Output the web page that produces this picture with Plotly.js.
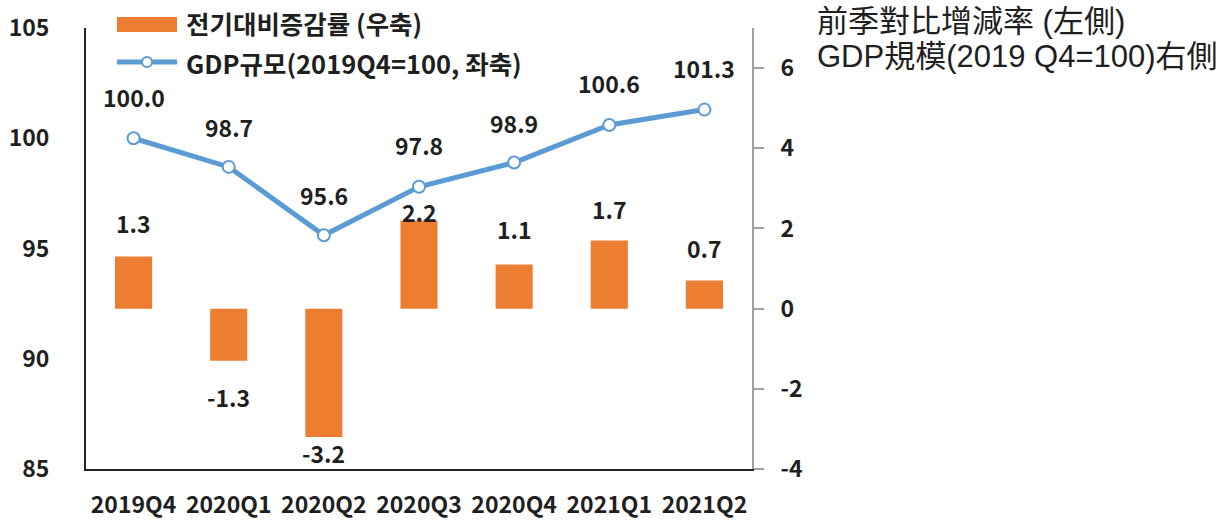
<!DOCTYPE html>
<html>
<head>
<meta charset="utf-8">
<script src="https://cdn.plot.ly/plotly-3.0.1.min.js"></script>
<style>
  html, body { margin: 0; padding: 0; background: #fff; }
  #chart { width: 1229px; height: 522px; }
</style>
</head>
<body>
<div id="chart"></div>
<script>
// ---- data ----
const quarters = ['2019Q4', '2020Q1', '2020Q2', '2020Q3', '2020Q4', '2021Q1', '2021Q2'];
const qoqRate = [1.3, -1.3, -3.2, 2.2, 1.1, 1.7, 0.7];          // 전기대비증감률 (우축)
const gdpLevel = [100.0, 98.7, 95.6, 97.8, 98.9, 100.6, 101.3];  // GDP규모 (좌축)
const barName = '전기대비증감률 (우축)';
const lineName = 'GDP규모(2019Q4=100, 좌축)';
const noteLines = ['前季對比增減率 (左側)', 'GDP規模(2019 Q4=100)右側'];
const leftTicks = [85, 90, 95, 100, 105];
const rightTicks = [-4, -2, 0, 2, 4, 6];

// ---- styling (label offsets in px) ----
const barLabelShift = [34, -36, -16, 8, 36, 31, 33];
const lineLabelShift = [41, 40, 40, 42, 40, 42, 42];

const ORANGE = '#ED7D31';
const BLUE = '#5B9BD5';
const TXT = '#1f1f1f';
const KFONT = '"Noto Sans CJK KR", "Noto Sans", sans-serif';
const CFONT = '"Liberation Sans", Arial, "Noto Sans CJK TC", sans-serif';

const L = 86, R = 752, T = 28, B = 469, W = 1229, H = 522;
const px2x = p => (p - L) / (R - L);
const px2y = p => (B - p) / (B - T);

const traces = [
  {
    type: 'bar', x: quarters, y: qoqRate, yaxis: 'y', name: barName,
    marker: { color: ORANGE }, width: 0.39, showlegend: false, hoverinfo: 'x+y'
  },
  {
    type: 'scatter', mode: 'lines+markers', x: quarters, y: gdpLevel, yaxis: 'y2', name: lineName,
    line: { color: BLUE, width: 5 },
    marker: { symbol: 'circle', size: 12, color: '#ffffff', line: { color: BLUE, width: 2 } },
    showlegend: false, hoverinfo: 'x+y'
  }
];

const annotations = [];
quarters.forEach((q, i) => {
  annotations.push({
    xref: 'x', yref: 'y', x: q, y: qoqRate[i], text: qoqRate[i].toFixed(1),
    showarrow: false, yshift: barLabelShift[i], xanchor: 'center', yanchor: 'middle',
    font: { family: KFONT, size: 23, color: TXT, weight: 'bold' }
  });
  annotations.push({
    xref: 'x', yref: 'y2', x: q, y: gdpLevel[i], text: gdpLevel[i].toFixed(1),
    showarrow: false, yshift: lineLabelShift[i], xanchor: 'center', yanchor: 'middle',
    font: { family: KFONT, size: 23, color: TXT, weight: 'bold' }
  });
});
// legend texts
annotations.push({
  xref: 'paper', yref: 'paper', x: px2x(184), y: px2y(23), text: barName,
  showarrow: false, xanchor: 'left', yanchor: 'middle',
  font: { family: KFONT, size: 25.5, color: TXT, weight: 'bold' }
});
annotations.push({
  xref: 'paper', yref: 'paper', x: px2x(184), y: px2y(62), text: lineName,
  showarrow: false, xanchor: 'left', yanchor: 'middle',
  font: { family: KFONT, size: 25.5, color: TXT, weight: 'bold' }
});
// side note
noteLines.forEach((t, i) => {
  annotations.push({
    xref: 'paper', yref: 'paper', x: px2x(815), y: px2y(22 + i * 34), text: t,
    showarrow: false, xanchor: 'left', yanchor: 'middle',
    font: { family: CFONT, size: 31, color: TXT }
  });
});

const shapes = [
  { type: 'rect', xref: 'paper', yref: 'paper', x0: px2x(117), x1: px2x(177), y0: px2y(32), y1: px2y(17),
    fillcolor: ORANGE, line: { width: 0 } },
  { type: 'line', xref: 'paper', yref: 'paper', x0: px2x(117), x1: px2x(177), y0: px2y(62), y1: px2y(62),
    line: { color: BLUE, width: 5 } },
  { type: 'circle', xref: 'paper', yref: 'paper', xsizemode: 'pixel', ysizemode: 'pixel',
    xanchor: px2x(147), yanchor: px2y(62), x0: -5, x1: 5, y0: -5, y1: 5,
    fillcolor: '#ffffff', line: { color: BLUE, width: 2 } }
];

const layout = {
  width: W, height: H,
  margin: { l: L, r: W - R, t: T, b: H - B, pad: 0 },
  paper_bgcolor: '#ffffff', plot_bgcolor: '#ffffff',
  showlegend: false,
  xaxis: {
    type: 'category', range: [-0.5, 6.5], showgrid: false, zeroline: false,
    showline: true, linecolor: '#222', linewidth: 2, ticks: '',
    tickfont: { family: KFONT, size: 23, color: TXT, weight: 'bold' },
    ticklabelstandoff: 14, fixedrange: true
  },
  yaxis: {
    side: 'right', range: [-4, 7], tickvals: rightTicks, ticktext: rightTicks.map(v => String(v)),
    showgrid: false, zeroline: false,
    showline: true, linecolor: '#a0a0a0', linewidth: 2,
    ticks: 'outside', ticklen: 10, tickwidth: 2, tickcolor: '#a0a0a0',
    tickfont: { family: KFONT, size: 23, color: TXT, weight: 'bold' },
    ticklabelstandoff: 12, fixedrange: true
  },
  yaxis2: {
    overlaying: 'y', side: 'left', range: [85, 105], tickvals: leftTicks, ticktext: leftTicks.map(v => String(v)),
    showgrid: false, zeroline: false,
    showline: true, linecolor: '#222', linewidth: 2, ticks: '',
    tickfont: { family: KFONT, size: 23, color: TXT, weight: 'bold' },
    ticklabelstandoff: 30, fixedrange: true
  },
  annotations: annotations,
  shapes: shapes
};

Plotly.newPlot('chart', traces, layout, { displayModeBar: false, staticPlot: true });
</script>
</body>
</html>
